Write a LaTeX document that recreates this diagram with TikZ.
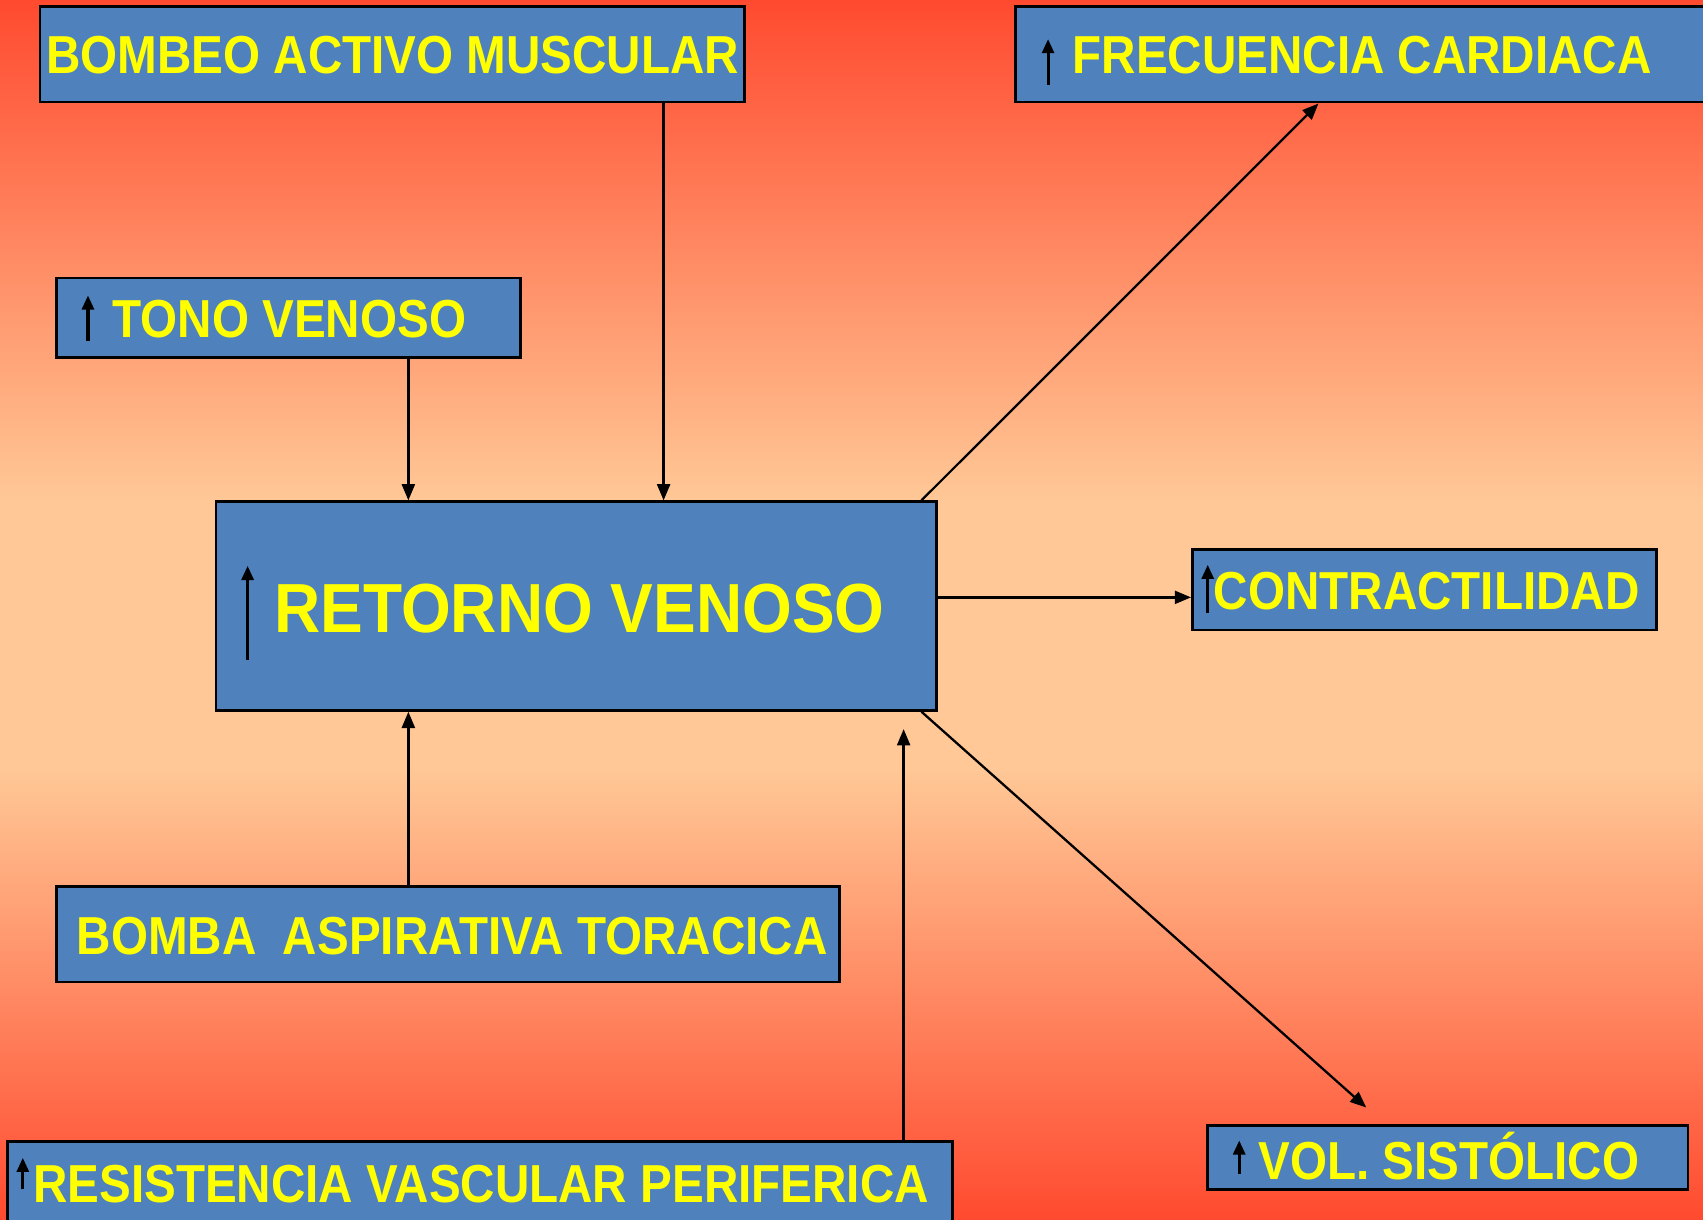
\documentclass[tikz,border=0pt]{standalone}
\usepackage{fontspec}
\setmainfont{Liberation Sans}[FakeStretch=0.89]
\newfontfamily\bigfont{Liberation Sans}[FakeStretch=0.92]
\usetikzlibrary{arrows.meta,calc}
\definecolor{bgred}{HTML}{FF4A2F}
\definecolor{bgpeach}{HTML}{FFC896}
\definecolor{boxblue}{HTML}{4F81BD}
\definecolor{txtyellow}{HTML}{FFFF00}
\pgfdeclareverticalshading{bgshade}{100bp}{color(0bp)=(bgred); color(25bp)=(bgred); color(43.5bp)=(bgpeach); color(54.5bp)=(bgpeach); color(75bp)=(bgred); color(100bp)=(bgred)}
\begin{document}
\begin{tikzpicture}[x=0.01cm,y=-0.01cm,
  box/.style={draw=black,line width=0.7pt,fill=boxblue,inner sep=0pt,rectangle},
  lab/.style={anchor=base west,inner sep=0pt,text=txtyellow,font=\bfseries\fontsize{14}{16}\selectfont},
  biglab/.style={lab,font=\bigfont\bfseries\fontsize{18.2}{20}\selectfont},
  conn/.style={line width=0.6pt,-{Triangle[length=0.15cm,width=0.12cm]}},
  icon/.style={line width=0.8pt,-{Triangle[length=0.13cm,width=0.11cm]}}]
\shade[shading=bgshade] (0,0) rectangle (1568,1123);
\useasboundingbox (0,0) rectangle (1568,1123);

% boxes
\node[box,minimum width=6.48cm,minimum height=0.88cm] (bombeo) at (361,50) {};
\node[box,minimum width=6.45cm,minimum height=0.88cm] (frec) at (1257.5,50) {};
\node[box,minimum width=4.27cm,minimum height=0.73cm] (tono) at (265.5,292.5) {};
\node[box,minimum width=6.63cm,minimum height=1.92cm] (retorno) at (530.5,558) {};
\node[box,minimum width=4.27cm,minimum height=0.74cm] (contr) at (1311.5,543) {};
\node[box,minimum width=7.21cm,minimum height=0.88cm] (bomba) at (412.5,860) {};
\node[box,minimum width=8.70cm,minimum height=0.89cm] (resist) at (442,1095.5) {};
\node[box,minimum width=4.42cm,minimum height=0.59cm] (vol) at (1333,1065.5) {};

% labels
\node[lab] (lbombeo) at (42,68) {BOMBEO ACTIVO MUSCULAR};
\node[lab] (lfrec) at (987,68) {FRECUENCIA CARDIACA};
\node[lab] (ltono) at (103,311) {TONO VENOSO};
\node[biglab] (lretorno) at (252,582) {RETORNO VENOSO};
\node[lab] (lcontr) at (1117,561) {CONTRACTILIDAD};
\node[lab] (lbomba) at (70,879) {BOMBA\ \ ASPIRATIVA TORACICA};
\node[lab] (lresist) at (30,1107) {RESISTENCIA VASCULAR PERIFERICA};
\node[lab] (lvol) at (1158,1086) {VOL. SISTÓLICO};

% up-arrow icons
\draw[icon] (965,78) -- (965,36);
\draw[icon] (81,314) -- (81,272);
\draw[icon] (228,608) -- (228,521);
\draw[icon] (1112,564) -- (1112,520);
\draw[icon] (21,1095) -- (21,1066);
\draw[icon] (1141,1081) -- (1141,1050);

% connectors
\coordinate (b1) at ($(bombeo.south)+(250,0)$);
\draw[conn] (b1) -- (b1 |- retorno.north);
\coordinate (t1) at ($(tono.south)+(110.5,0)$);
\draw[conn] (t1) -- (t1 |- retorno.north);
\coordinate (a1) at ($(bomba.north)+(-36.5,0)$);
\draw[conn] (a1) -- (a1 |- retorno.south);
\coordinate (r1) at ($(resist.north)+(390,0)$);
\coordinate (r2) at ($(r1 |- retorno.south)+(0,16)$);
\draw[conn] (r1) -- (r2);
\coordinate (f0) at ($(retorno.north east)+(-15,0)$);
\coordinate (f1) at ($(frec.south)+(-43.5,0)$);
\draw[conn] (f0) -- (f1);
\coordinate (c0) at ($(retorno.east)+(0,-8)$);
\draw[conn] (c0) -- (c0 -| contr.west);
\coordinate (v0) at ($(retorno.south east)+(-15,0)$);
\coordinate (v1) at ($(vol.north)+(-75,-15)$);
\draw[conn] (v0) -- (v1);
\end{tikzpicture}
\end{document}
